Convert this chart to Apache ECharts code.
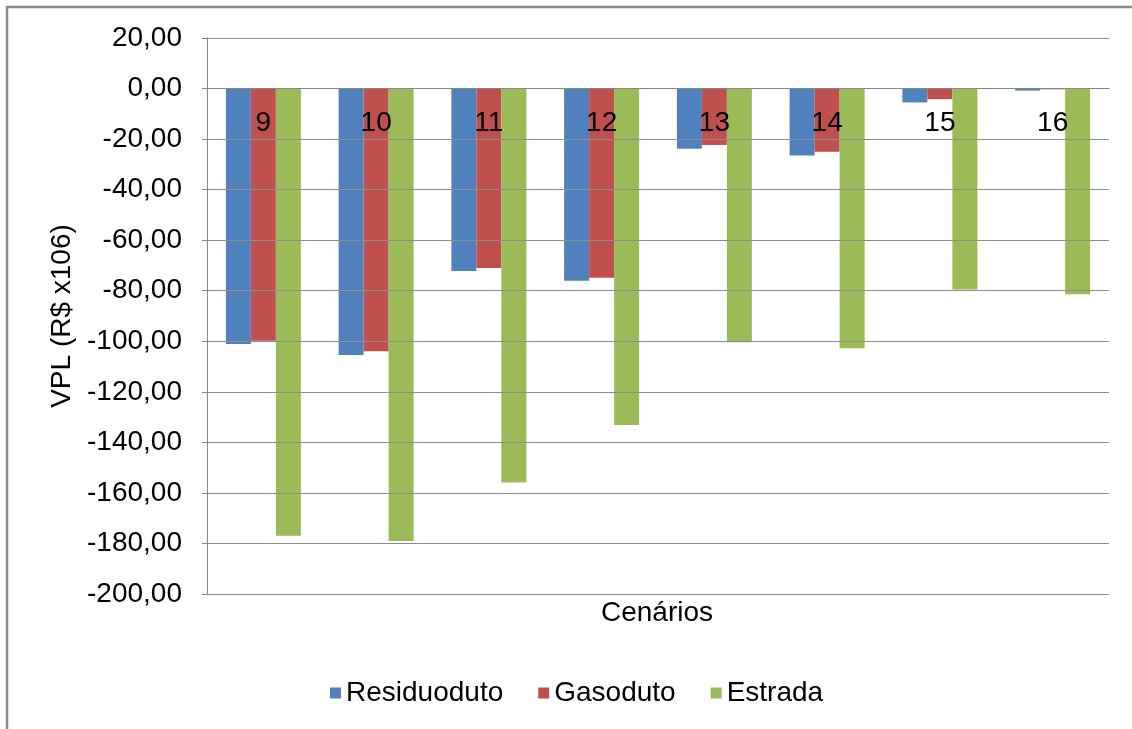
<!DOCTYPE html>
<html>
<head>
<meta charset="utf-8">
<script src="https://cdn.jsdelivr.net/npm/echarts@6/dist/echarts.min.js"></script>
<style>
html,body{margin:0;padding:0;background:#fff;}
#chart{width:1132px;height:729px;}
</style>
</head>
<body>
<div id="chart"></div>
<script>
const categories = ['9', '10', '11', '12', '13', '14', '15', '16'];
const residuoduto = [-101.1, -105.4, -72.2, -76.1, -23.8, -26.5, -5.5, -0.8];
const gasoduto = [-99.8, -103.9, -71.0, -74.9, -22.3, -25.0, -4.2, -0.3];
const estrada = [-177.0, -179.0, -155.9, -133.1, -100.4, -102.8, -79.5, -81.4];
const seriesNames = ['Residuoduto', 'Gasoduto', 'Estrada'];
const colors = ['#4F81BD', '#C0504D', '#9BBB59'];
const yMin = -200, yMax = 20, yStep = 20;
const xAxisTitle = 'Cenários';
const yAxisTitle = 'VPL (R$ x106)';

const font = '"Liberation Sans", Arial, sans-serif';
const FS = 28;
const chart = echarts.init(document.getElementById('chart'), null, {renderer: 'canvas'});
const dataSets = [residuoduto, gasoduto, estrada];

const gridTop = 38, gridBottom = 135, H = 729;
const plotH = H - gridTop - gridBottom;
// distance of the zero line from the bottom of the plot, via the value scale
const zeroFromBottom = plotH * (0 - yMin) / (yMax - yMin);

chart.setOption({
  animation: false,
  backgroundColor: '#ffffff',
  textStyle: {fontFamily: font},
  grid: {left: 207, right: 23, top: gridTop, bottom: gridBottom, containLabel: false},
  legend: {
    data: seriesNames,
    left: 325, top: 674,
    icon: 'rect', itemWidth: 11, itemHeight: 11, itemGap: 35,
    textStyle: {fontSize: FS, color: '#000', fontFamily: font}
  },
  graphic: [
    {type: 'rect', shape: {x: 7, y: 7, width: 1200, height: 800},
     style: {fill: 'none', stroke: '#8a8a8a', lineWidth: 2.5}, silent: true, z: -1},
    {type: 'text', x: 657, y: 613,
     style: {text: xAxisTitle, fontSize: FS, fill: '#000', fontFamily: font,
             textAlign: 'center', textVerticalAlign: 'middle'}}
  ],
  xAxis: {
    type: 'category',
    data: categories,
    position: 'bottom',
    offset: -zeroFromBottom,
    z: 10,
    axisLine: {onZero: false, lineStyle: {color: '#868686'}},
    axisTick: {show: false},
    axisLabel: {fontSize: FS, color: '#000', margin: 21, fontFamily: font},
    splitLine: {show: false}
  },
  yAxis: {
    type: 'value',
    min: yMin, max: yMax, interval: yStep,
    name: yAxisTitle,
    nameLocation: 'middle',
    nameGap: 130,
    nameRotate: 90,
    nameTextStyle: {fontSize: FS, color: '#000', fontFamily: font},
    z: 10,
    axisLine: {show: true, lineStyle: {color: '#868686'}},
    axisTick: {show: true, length: 5, inside: false, lineStyle: {color: '#868686'}},
    axisLabel: {fontSize: FS, color: '#000', margin: 25, fontFamily: font,
      formatter: v => v.toFixed(2).replace('.', ',')},
    splitLine: {show: true, lineStyle: {color: '#8c8c8c', width: 1}}
  },
  series: seriesNames.map((n, i) => ({
    name: n,
    type: 'bar',
    data: dataSets[i],
    barWidth: 25,
    barGap: '0%',
    z: 2,
    itemStyle: {color: colors[i]}
  }))
});
</script>
</body>
</html>
